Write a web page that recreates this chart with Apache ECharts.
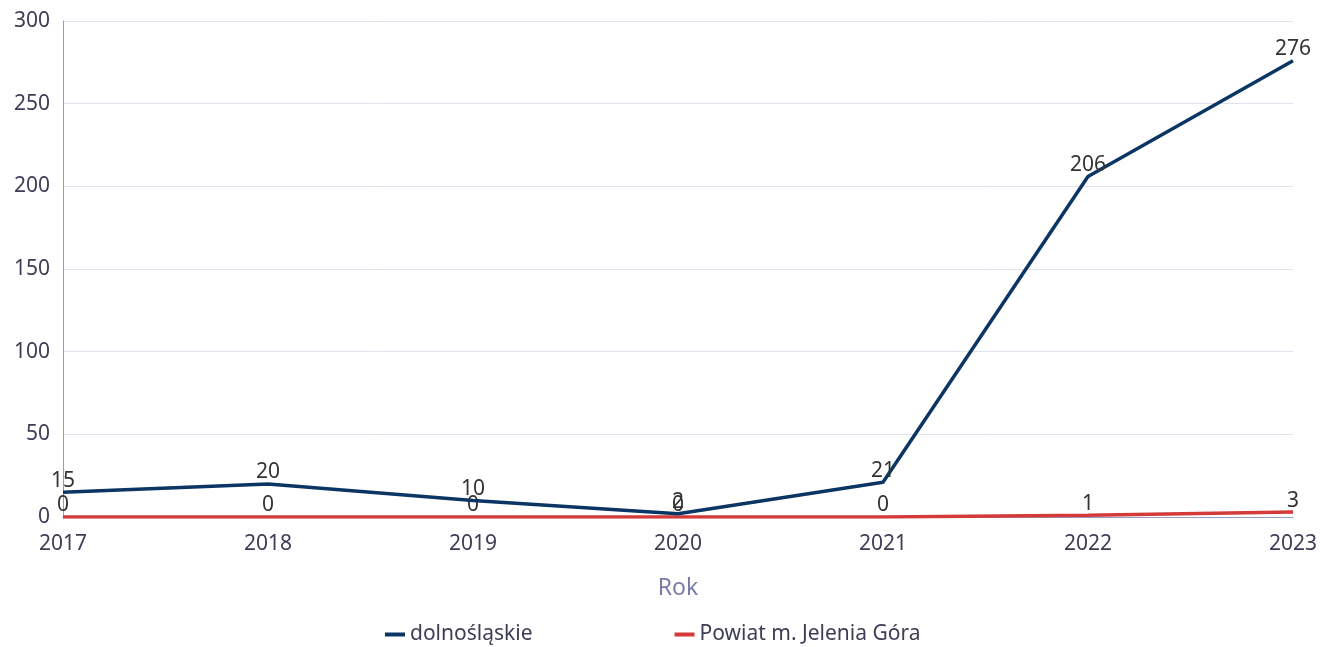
<!DOCTYPE html>
<html><head><meta charset="utf-8">
<script src="https://cdn.jsdelivr.net/npm/echarts@6/dist/echarts.min.js"></script>
<style>html,body{margin:0;padding:0;background:#fff}#c{width:1320px;height:647px}</style>
</head><body><div id="c"></div>
<script>
const categories = ['2017','2018','2019','2020','2021','2022','2023'];
const dolnoslaskie = [15, 20, 10, 2, 21, 206, 276];
const jeleniaGora = [0, 0, 0, 0, 0, 1, 3];
const seriesNames = ['dolnośląskie', 'Powiat m. Jelenia Góra'];
const yTicks = {min: 0, max: 300, interval: 50};

const chart = echarts.init(document.getElementById('c'));
const font = 'Noto Sans';
const lbl = {show: true, position: 'top', color: '#333', fontSize: 21, fontFamily: font, distance: 1};
chart.setOption({
  animation: false,
  textStyle: {fontFamily: font},
  grid: {left: 63, right: 24, top: 21, bottom: 130, containLabel: false},
  legend: {
    top: 619, left: 380, itemGap: 142, itemWidth: 20, itemHeight: 4,
    icon: 'rect',
    textStyle: {fontSize: 21, color: '#3d3d55', fontFamily: font},
    data: seriesNames
  },
  xAxis: {
    type: 'category', data: categories, boundaryGap: false,
    name: 'Rok', nameLocation: 'middle', nameGap: 60,
    nameTextStyle: {fontSize: 23, color: '#7a7aa8', fontFamily: font},
    axisLine: {show: true, lineStyle: {color: '#9a9ac0', width: 1}},
    axisTick: {show: false},
    axisLabel: {fontSize: 21, color: '#3d3d55', margin: 17, fontFamily: font,
      align: 'center'}
  },
  yAxis: {
    type: 'value', min: yTicks.min, max: yTicks.max, interval: yTicks.interval,
    axisLine: {show: true, lineStyle: {color: '#9a9ac0', width: 1}},
    axisTick: {show: false},
    splitLine: {lineStyle: {color: '#e2e2ef', width: 1}},
    axisLabel: {fontSize: 21, color: '#3d3d55', margin: 13, fontFamily: font}
  },
  series: [
    {name: seriesNames[0], type: 'line', data: dolnoslaskie, symbol: 'circle', symbolSize: 0.01,
     showSymbol: true,
     lineStyle: {width: 3.5, color: '#0b3563'}, itemStyle: {color: '#0b3563'},
     label: lbl, z: 3},
    {name: seriesNames[1], type: 'line', data: jeleniaGora, symbol: 'circle', symbolSize: 0.01,
     showSymbol: true,
     lineStyle: {width: 3.5, color: '#d43a3a'}, itemStyle: {color: '#d43a3a'},
     label: lbl, z: 2}
  ]
});
</script></body></html>
